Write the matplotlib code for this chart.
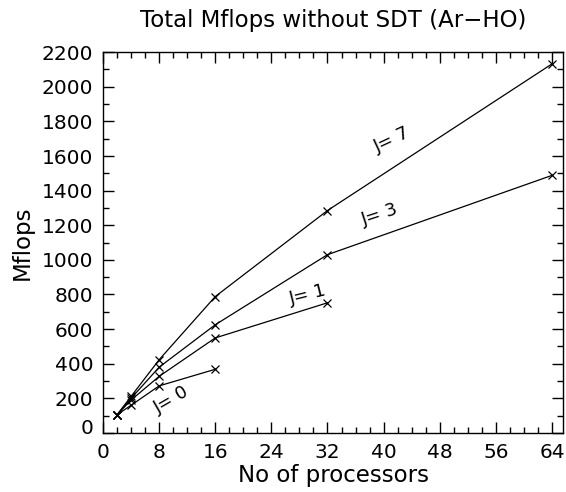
import matplotlib
matplotlib.use("Agg")
import matplotlib.pyplot as plt
import matplotlib.transforms as mtransforms
from matplotlib.ticker import MultipleLocator

# Data
procs_j0 = [2, 4, 8, 16]
mflops_j0 = [105, 160, 272, 368]
procs_j1 = [2, 4, 8, 16, 32]
mflops_j1 = [105, 190, 327, 549, 752]
procs_j3 = [2, 4, 8, 16, 32, 64]
mflops_j3 = [105, 200, 380, 625, 1030, 1488]
procs_j7 = [2, 4, 8, 16, 32, 64]
mflops_j7 = [105, 211, 423, 788, 1285, 2132]

labels = ["J= 0", "J= 1", "J= 3", "J= 7"]
label_pos = [(9.8, 190), (29.2, 800), (39.5, 1262), (41.2, 1695)]
label_rot = [30, 14, 18, 25]

xticks = [0, 8, 16, 24, 32, 40, 48, 56, 64]
yticks = list(range(0, 2201, 200))

plt.rcParams['font.family'] = ['DejaVu Sans']
fig = plt.figure(figsize=(5.66, 4.92), dpi=100)
ax = fig.add_axes([0.182, 0.12, 0.813, 0.774])

for xs, ys in [(procs_j0, mflops_j0), (procs_j1, mflops_j1),
               (procs_j3, mflops_j3), (procs_j7, mflops_j7)]:
    ax.plot(xs, ys, color='black', lw=0.9, marker='x', ms=6, mew=0.9)

for t, (x, y), r in zip(labels, label_pos, label_rot):
    ax.text(x, y, t, rotation=r, ha='center', va='center', fontsize=13)

ax.set_xlim(0, 65.6)
ax.set_ylim(0, 2200)
ax.set_xticks(xticks)
ax.set_yticks(yticks)
ax.xaxis.set_minor_locator(MultipleLocator(2))
ax.yaxis.set_minor_locator(MultipleLocator(100))
ax.tick_params(which='both', direction='in', top=True, right=True, width=1, labelsize=14.5)
ax.tick_params(which='major', length=8)
ax.tick_params(which='minor', length=4)
ax.tick_params(axis='x', which='major', pad=7)
ax.tick_params(axis='y', which='major', pad=7)
for s in ax.spines.values():
    s.set_linewidth(1)

ax.set_title("Total Mflops without SDT (Ar\u2212HO)", fontsize=16.5, pad=18)
ax.set_xlabel("No of processors", fontsize=16.5, labelpad=2)
ax.set_ylabel("Mflops", fontsize=16.5, labelpad=6)

fig.canvas.draw()
lab0 = ax.get_yticklabels()[0]
lab0.set_transform(lab0.get_transform() + mtransforms.ScaledTranslation(0, 6/100, fig.dpi_scale_trans))

fig.savefig("out.png", dpi=100)
